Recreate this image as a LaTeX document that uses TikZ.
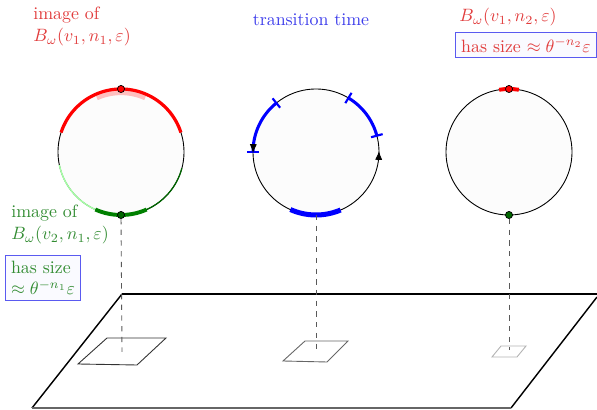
\documentclass[tikz,border=0pt]{standalone}
\usetikzlibrary{arrows.meta}
\definecolor{imgred}{RGB}{225,60,60}
\definecolor{imggreen}{RGB}{50,140,50}
\definecolor{ttblue}{RGB}{60,60,235}
\definecolor{boxblue}{RGB}{90,90,240}

\begin{document}
\begin{tikzpicture}[x=0.56pt,y=0.56pt]
    % Style definitions
    \tikzset{
      ring/.style={circle, draw=black, line width=0.5pt, fill=black!1,
        minimum size=70.56pt, inner sep=0pt, outer sep=0pt},
      redarc/.style={draw=red, line width=1.8pt},
      greenarc/.style={draw=green!50!black, line width=2.2pt},
      bluearc/.style={draw=blue, line width=1.7pt},
      tickmark/.style={draw=blue, line width=1.2pt},
      dot/.style={circle, draw=black, line width=0.4pt, minimum size=4pt, inner sep=0pt},
      drop/.style={draw=black!65, dashed, line width=0.5pt},
      lbl/.style={align=left, inner sep=0pt},
      sizebox/.style={draw=boxblue, fill=blue!2, line width=0.6pt,
        inner xsep=3pt, inner ysep=3pt},
    }
    \useasboundingbox (0,0) rectangle (597,410);
    % ------------------------------------------------------------------
    % Helper macro: short radial bar on ring #1 at angle #2
    % ------------------------------------------------------------------
    \newcommand{\arctick}[2]{%
      \draw[tickmark] ([shift={(#2:57)}]#1.center) -- ([shift={(#2:69)}]#1.center);%
    }

    % The base plane and the three footprints on it
    \draw[line width=1.1pt] (122,116) -- (597,116);
    \draw[line width=0.8pt] (32,2) -- (122,116);
    \draw[line width=0.8pt] (597,113) -- (511,2);
    \draw[black!60, line width=0.6pt] (32,2) -- (511,2);
    \draw[black!80, line width=0.5pt] (107,72) -- (166,72) -- (137,45) -- (78,46) -- cycle;
    \draw[black!60, line width=0.5pt] (305,69) -- (348,69) -- (327,48) -- (283,49) -- cycle;
    \draw[black!30, line width=0.5pt] (501,64) -- (526,64) -- (517,53) -- (492,53) -- cycle;
    \coordinate (p1) at (122,58);
    \coordinate (p2) at (316,58);
    \coordinate (p3) at (509,60);

    % Ring 1: images of the two balls
    \node[ring] (c1) at (121,258) {};
    \draw[red!25, line width=3.5pt] ([shift={(66:60)}]c1.center) arc[start angle=66, end angle=114, radius=60];
    \draw[green!35, line width=0.8pt] (c1.192) arc[start angle=192, end angle=246, radius=63];
    \draw[green!40!black, line width=0.7pt] (c1.294) arc[start angle=294, end angle=345, radius=63];
    \draw[redarc] (c1.18) arc[start angle=18, end angle=162, radius=63];
    \draw[greenarc] (c1.246) arc[start angle=246, end angle=294, radius=63];
    \node[dot, fill=red] (top1) at (c1.90) {};
    \node[dot, fill=green!40!black] (bot1) at (c1.270) {};

    % Ring 2: transition time
    \node[ring] (c2) at (316,258) {};
    \draw[bluearc] (c2.129) arc[start angle=129, end angle=180, radius=63];
    \draw[bluearc] (c2.15) arc[start angle=15, end angle=59, radius=63];
    \draw[draw=blue, line width=2.8pt] (c2.246) arc[start angle=246, end angle=293, radius=63];
    \arctick{c2}{129}
    \arctick{c2}{180}
    \arctick{c2}{59}
    \arctick{c2}{15}
    \draw[-{Latex[length=5pt,width=4pt]}, line width=0.5pt] (c2.175) -- (c2.181);
    \draw[-{Latex[length=5pt,width=4pt]}, line width=0.5pt] (c2.355) -- (c2.1);

    % Ring 3: the smaller ball
    \node[ring] (c3) at (509,258) {};
    \draw[draw=red, line width=2.2pt] (c3.81) arc[start angle=81, end angle=99, radius=63];
    \node[dot, fill=red] (top3) at (c3.90) {};
    \node[dot, fill=green!40!black] (bot3) at (c3.270) {};

    % Drop lines down to the plane
    \draw[drop] (bot1) -- (p1);
    \draw[drop] (c2.south) -- (p2);
    \draw[drop] (bot3) -- (p3);

    % Annotations
    \node[lbl, text=imgred, anchor=north west] (imgA) at (33,403)
      {image of\\$B_\omega(v_1,n_1,\varepsilon)$};
    \node[lbl, text=ttblue] (title) at (311,390) {transition time};
    \node[lbl, text=imgred] (imgC) at (508,393) {$B_\omega(v_1,n_2,\varepsilon)$};
    \node[sizebox, text=imgred] (sizeC) at (526,365)
      {has size $\approx \theta^{-n_2}\varepsilon$};
    \node[lbl, text=imggreen, anchor=north west] (imgB) at (11,205)
      {image of\\$B_\omega(v_2,n_1,\varepsilon)$};
    \node[sizebox, text=imggreen, align=left] (sizeB) at (43,132)
      {has size\\$\approx \theta^{-n_1}\varepsilon$};
\end{tikzpicture}
\end{document}
